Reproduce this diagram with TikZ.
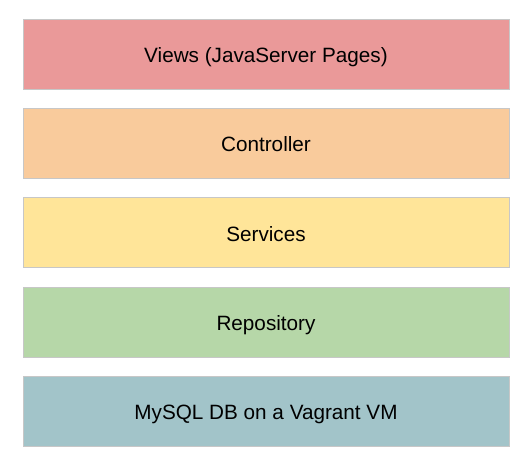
\documentclass[tikz,border=0pt]{standalone}
\usepackage{fontspec}
\setmainfont{Liberation Sans}
\usepackage{xcolor}
\usetikzlibrary{positioning}

\definecolor{viewred}{HTML}{EA9999}
\definecolor{ctrlorange}{HTML}{F9CB9C}
\definecolor{svcyellow}{HTML}{FFE599}
\definecolor{repogreen}{HTML}{B6D7A8}
\definecolor{dbblue}{HTML}{A2C4C9}

\begin{document}
\begin{tikzpicture}[x=1pt, y=1pt]
		\useasboundingbox (0,0) rectangle (532,-467);
		\begin{scope}[every node/.style = {rectangle, draw={black!22}, line width=0.8pt,
				minimum width=486pt, minimum height=70pt, inner sep=0pt,
				text height=17pt, text depth=0.4pt,
				font=\fontsize{20.7}{24}\selectfont}]
			\node[fill=viewred] (V) at (266,-54) {Views (JavaServer Pages)};
			\node[fill=ctrlorange] (C) at (266,-143.5) {Controller};
			\node[fill=svcyellow] (S) at (266,-232.8) {Services};
			\node[fill=repogreen] (R) at (266,-322.2) {Repository};
			\node[fill=dbblue] (D) at (266,-411.6) {MySQL DB on a Vagrant VM};
		\end{scope}
	\end{tikzpicture}
\end{document}
